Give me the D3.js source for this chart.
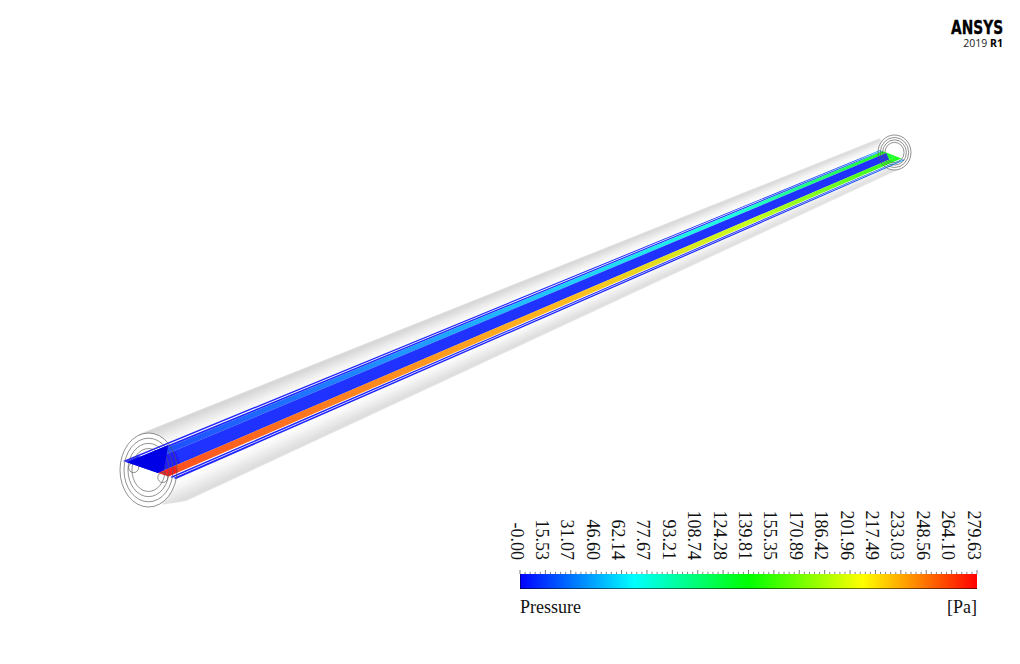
<!DOCTYPE html>
<html><head><meta charset="utf-8">
<script src="https://cdn.jsdelivr.net/npm/d3@7"></script>
<style>html,body{margin:0;background:#fff}svg{display:block}</style></head>
<body><div id="c"></div>
<script>
const width=1020,height=664;
// colour bar
const pMin=-0.00,pMax=279.63;
const tickLabels=["-0.00","15.53","31.07","46.60","62.14","77.67","93.21","108.74","124.28","139.81","155.35","170.89","186.42","201.96","217.49","233.03","248.56","264.10","279.63"];
const rainbowFractions=[0,.25,.5,.75,1];
const rainbowColors=["#0000ff","#00ffff","#00ff00","#ffff00","#ff0000"];
// pressure along the pipe, at axial stations (0 near end, 1 far end)
const stations=[0,.018,.019,.04,.041,.23,.55,.8,.97,.994,.995,1];
const edgeLineP =[0,1,1,2,2,2,3,5,20,40,40,40];
const upperBandP=[0,0,0,0,15,27,52,80,130,140,140,140];
const coreBandP =[0,0,0,0,6,6,6,6,6,6,135,135];
const lowerBandP=[279,279,264,262,262,250,231,192,150,140,140,140];
// bands across the section (0 upper edge, 1 lower edge)
const bandFrom=[0,.04,.07,.12,.28,.66,.89,.95];
const bandTo  =[.04,.07,.12,.28,.66,.86,.93,1];
const bandEnd =[1,.018,1,1,1,1,1,1];
const bandP=[edgeLineP,edgeLineP,edgeLineP,upperBandP,coreBandP,lowerBandP,edgeLineP,edgeLineP];
// shading across the outer pipe (0 upper silhouette, 1 lower silhouette)
const shadeAt=[0,.03,.06,.09,.12,.15,.18,.21,.25,.3,.7,.75,.79,.82,.85,.88,.91,.94,.97,1];
const shadeGray=[206,212,218,224,230,236,241,246,250,255,255,250,246,241,236,232,228,224,220,216];
const ringScale=[1,.86,.72,.58];
const tubeAt=[.2,.75];

const color=d3.scaleLinear().domain(rainbowFractions.map(f=>pMin+f*(pMax-pMin))).range(rainbowColors);
const T=[0,1];
// section line end points along the pipe
const ax=d3.scaleLinear(T,[123,880]),ay=d3.scaleLinear(T,[461,150]);
const bx=d3.scaleLinear(T,[176,905]),by=d3.scaleLinear(T,[479,160]);
const sec=(t,s)=>[ax(t)+(bx(t)-ax(t))*s,ay(t)+(by(t)-ay(t))*s];
// outer silhouettes
const ux=d3.scaleLinear(T,[139,880]),uy=d3.scaleLinear(T,[434,138]);
const lx=d3.scaleLinear(T,[165,900]),ly=d3.scaleLinear(T,[511,169]);
const sil=(t,d)=>[ux(t)+(lx(t)-ux(t))*d,uy(t)+(ly(t)-uy(t))*d];
// end rings
const cx=d3.scaleLinear(T,[148.5,894.5]),cy=d3.scaleLinear(T,[470,152.5]);
const rxS=d3.scaleLinear(T,[28.5,16.5]),ryS=d3.scaleLinear(T,[37,17.5]);

const svg=d3.select("#c").append("svg").attr("width",width).attr("height",height);
const defs=svg.append("defs");
const line=d3.line();
const g=svg.append("g");

// pipe shading (soft strips, kept inside the silhouette)
defs.append("filter").attr("id","soft").attr("x","-5%").attr("y","-5%").attr("width","110%").attr("height","110%")
  .append("feGaussianBlur").attr("stdDeviation",.8);
defs.append("clipPath").attr("id","pipe").append("path")
  .attr("d",line([sil(0,0),sil(1,0),sil(1,1),sil(.03,1),[cx(0),cy(0)+ryS(0)]])+"Z");
const shade=g.append("g").attr("clip-path","url(#pipe)").append("g").attr("filter","url(#soft)");
d3.pairs(shadeAt).forEach(([d0,d1],i)=>{
  const k=Math.round((shadeGray[i]+shadeGray[i+1])/2);
  shade.append("path").attr("d",line([sil(0,d0),sil(1,d0),sil(1,d1),sil(0,d1)])+"Z")
    .attr("fill",`rgb(${k},${k},${k})`).attr("stroke",`rgb(${k},${k},${k})`).attr("stroke-width",.3);
});
// white discs at the ends
T.forEach(t=>g.append("ellipse").attr("cx",cx(t)).attr("cy",cy(t)).attr("rx",rxS(t)).attr("ry",ryS(t)).attr("fill","#fff"));

// bands
bandFrom.forEach((s0,i)=>{
  const s1=bandTo[i],e=bandEnd[i];
  const a=sec(0,(s0+s1)/2),b=sec(1,(s0+s1)/2);
  const grad=defs.append("linearGradient").attr("id","band"+i).attr("gradientUnits","userSpaceOnUse")
    .attr("x1",a[0]).attr("y1",a[1]).attr("x2",b[0]).attr("y2",b[1]);
  stations.forEach((t,k)=>grad.append("stop").attr("offset",t).attr("stop-color",color(bandP[i][k])));
  g.append("path").attr("d",line([sec(0,s0),sec(e,s0),sec(e,s1),sec(0,s1)])+"Z")
    .attr("fill",`url(#band${i})`).attr("fill-opacity",.88);
});

// rings
T.forEach(t=>ringScale.forEach(k=>g.append("ellipse")
  .attr("cx",cx(t)).attr("cy",cy(t)).attr("rx",rxS(t)*k).attr("ry",ryS(t)*k)
  .attr("fill","none").attr("stroke","#555").attr("stroke-width",.65)));
// small tube circles
tubeAt.forEach(s=>{const p=sec(0,s);
  g.append("circle").attr("cx",p[0]).attr("cy",p[1]+3).attr("r",5).attr("fill","none").attr("stroke","#555").attr("stroke-width",.65);});
// cut face at the near end hides what lies behind it
g.append("path").attr("d",line([sec(0,bandFrom[2]),sec(.055,bandFrom[2]),sec(.008,bandTo[4]),sec(0,bandTo[4])])+"Z").attr("fill","#0000e6");

// colour bar
const barX=d3.scaleLinear([pMin,pMax],[520,977]);
const barTop=574,barH=15;
const cg=defs.append("linearGradient").attr("id","bar");
rainbowFractions.forEach((f,i)=>cg.append("stop").attr("offset",f).attr("stop-color",rainbowColors[i]));
const bar=svg.append("g");
bar.append("rect").attr("x",barX(pMin)).attr("y",barTop).attr("width",barX(pMax)-barX(pMin)).attr("height",barH).attr("fill","url(#bar)");
bar.append("line").attr("x1",barX(pMin)).attr("x2",barX(pMax)).attr("y1",barTop+barH-.5).attr("y2",barTop+barH-.5).attr("stroke","#000").attr("stroke-opacity",.55);
bar.append("line").attr("x1",barX(pMin)+.5).attr("x2",barX(pMin)+.5).attr("y1",barTop).attr("y2",barTop+barH).attr("stroke","#000").attr("stroke-opacity",.45);
const step=(pMax-pMin)/(tickLabels.length-1);
tickLabels.forEach((lab,i)=>{
  const v=pMin+i*step,x=barX(v);
  bar.append("line").attr("x1",x).attr("x2",x).attr("y1",barTop-4).attr("y2",barTop).attr("stroke","#555").attr("stroke-width",.8);
  if(i<tickLabels.length-1) for(let m=1;m<5;m++){const xm=barX(v+m*step/5);
    bar.append("line").attr("x1",xm).attr("x2",xm).attr("y1",barTop-2.2).attr("y2",barTop).attr("stroke","#666").attr("stroke-width",.8);}
  bar.append("text").attr("transform",`translate(${x-9.5},560) rotate(90)`).attr("text-anchor","end")
    .attr("font-family","Liberation Serif").attr("font-size",18).attr("fill","#111").text(lab);
});
bar.append("text").attr("x",520).attr("y",613).attr("font-family","Liberation Serif").attr("font-size",18).attr("fill","#111").text("Pressure");
bar.append("text").attr("x",977).attr("y",613).attr("text-anchor","end").attr("font-family","Liberation Serif").attr("font-size",18).attr("fill","#111").text("[Pa]");

// logo
svg.append("text").attr("transform","translate(951,33.5) scale(.69,1)")
  .attr("font-family","DejaVu Sans").attr("font-weight",700).attr("font-size",20)
  .attr("fill","#000").attr("stroke","#000").attr("stroke-width",.35).text("ANSYS");
const lg=svg.append("text").attr("x",1003).attr("y",47).attr("text-anchor","end")
  .attr("font-family","Open Sans").attr("font-size",10.5).attr("fill","#222");
lg.append("tspan").text("2019 ");
lg.append("tspan").attr("font-weight",700).attr("fill","#000").text("R1");
</script></body></html>
